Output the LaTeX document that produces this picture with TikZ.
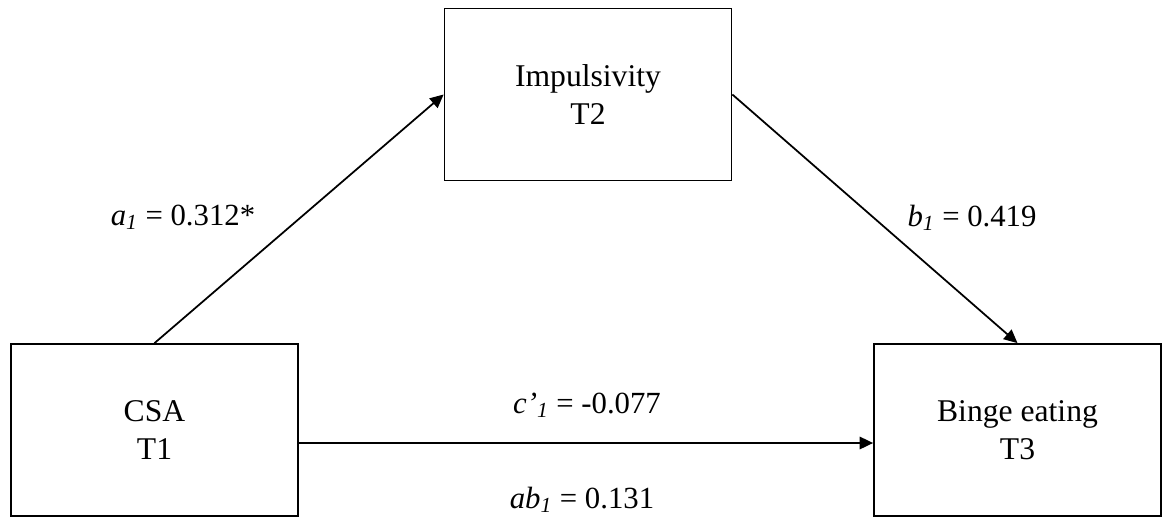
\documentclass[tikz,border=0pt]{standalone}
\usepackage{fontspec}
\setmainfont{Liberation Serif}
\usepackage{tikz}
\usetikzlibrary{arrows.meta}

\begin{document}
\begin{tikzpicture}[
    varbox/.style={draw, line width=1pt, minimum width=5.74cm, minimum height=3.44cm,
        inner sep=0pt, align=center, font=\fontsize{18}{21.6}\selectfont},
    coef/.style={anchor=base, inner sep=0pt, font=\fontsize{17.5}{21.6}\selectfont},
    effect/.style={line width=1pt, -{Triangle[length=0.27cm, width=0.25cm]}}]
    \useasboundingbox (0,0) rectangle (23.24,10.38);
    % Variables
    \node[varbox] (imp) at (11.76,8.49) {Impulsivity\\T2};
    \node[varbox] (csa) at (3.09,1.78) {CSA\\T1};
    \node[varbox] (binge) at (20.35,1.78) {Binge eating\\T3};
    % Paths
    \draw[effect] (csa.north) -- (imp.west);
    \draw[effect] (imp.east) -- (binge.north);
    \draw[effect] ([yshift=-0.26cm]csa.east) -- ([yshift=-0.26cm]binge.west);
    % Coefficients
    \node[coef] (a1) at (3.66,5.88) {\textit{a\textsubscript{1}} = 0.312*};
    \node[coef] (b1) at (19.44,5.86) {\textit{b\textsubscript{1}} = 0.419};
    \node[coef] (c1) at (11.74,2.12) {\textit{c’\textsubscript{1}} = -0.077};
    \node[coef] (ab1) at (11.64,0.22) {\textit{ab\textsubscript{1}} = 0.131};
\end{tikzpicture}
\end{document}
